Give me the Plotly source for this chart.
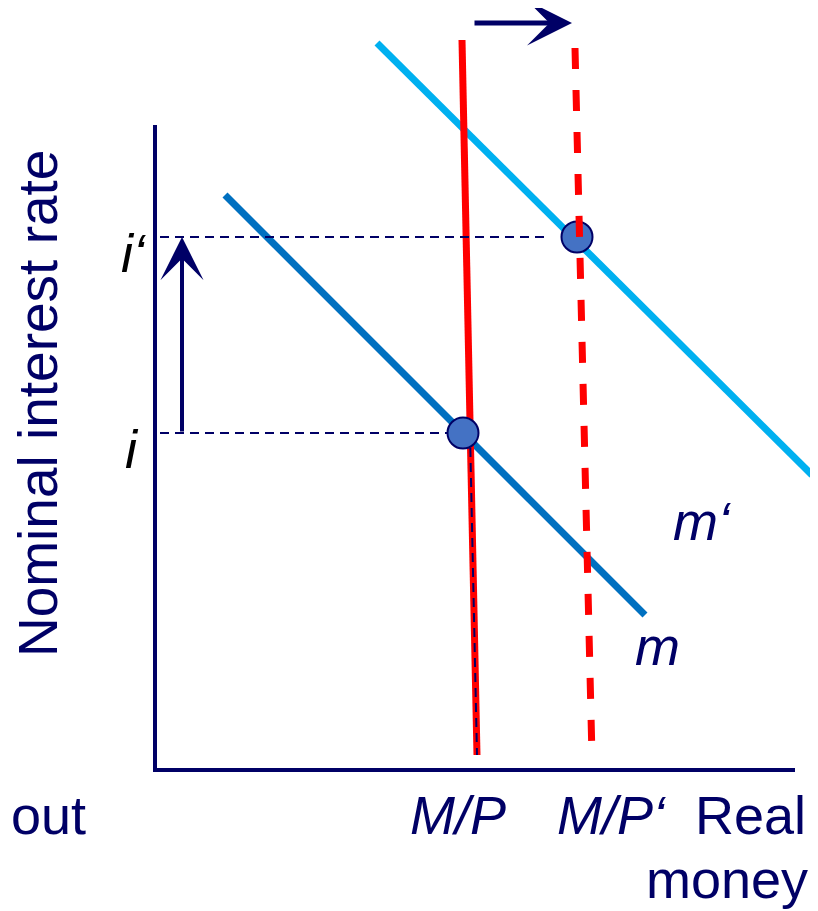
import plotly.graph_objects as go

# ---- data (diagram units: origin at the axes corner) ----
axis_x = [0, 0, 640]
axis_y = [645, 0, 0]

m_x = [70, 490]          # money demand m
m_y = [575, 155]
m2_x = [222, 657]        # money demand m'
m2_y = [727, 295]
ms_x = [307, 322]        # money supply M/P
ms_y = [730, 15]
ms2_x = [420, 437]       # money supply M/P'
ms2_y = [722, 13]

i_level = 337
i2_level = 533
eq_x = [308, 422]
eq_y = [i_level, i2_level]

guide_i_x = [5, 295]
guide_i2_x = [5, 390]
drop_x = [315, 322]
drop_y = [i_level, 15]

shift_arrow_x = [318, 417]
shift_arrow_y = [747, 747]
rise_arrow_x = [27, 27]
rise_arrow_y = [i_level, i2_level]

NAVY = "#000066"
FONT = "Liberation Sans"

fig = go.Figure()

def line(x, y, color, width, dash="solid"):
    fig.add_trace(go.Scatter(x=x, y=y, mode="lines",
                             line=dict(color=color, width=width, dash=dash),
                             hoverinfo="skip", showlegend=False))

line(axis_x, axis_y, NAVY, 4)
line(m_x, m_y, "#0070C0", 7)
line(m2_x, m2_y, "#00B0F0", 7)
line(ms_x, ms_y, "#FF0000", 7)
line(guide_i_x, [i_level, i_level], NAVY, 2, "9px,6px")
line(guide_i2_x, [i2_level, i2_level], NAVY, 2, "9px,6px")
line(drop_x, drop_y, NAVY, 2, "9px,6px")

fig.add_trace(go.Scatter(x=eq_x, y=eq_y, mode="markers",
                         marker=dict(size=31, color="#4472C4",
                                     line=dict(color=NAVY, width=2)),
                         hoverinfo="skip", showlegend=False))
line(ms2_x, ms2_y, "#FF0000", 7, "21px,21px")

# arrows
fig.add_annotation(x=shift_arrow_x[1], y=shift_arrow_y[1], ax=shift_arrow_x[0], ay=shift_arrow_y[0],
                   xref="x", yref="y", axref="x", ayref="y", text="", showarrow=True,
                   arrowhead=3, arrowsize=1.5, arrowwidth=5, arrowcolor=NAVY, standoff=0)
fig.add_annotation(x=rise_arrow_x[1], y=rise_arrow_y[1], ax=rise_arrow_x[0], ay=rise_arrow_y[0],
                   xref="x", yref="y", axref="x", ayref="y", text="", showarrow=True,
                   arrowhead=3, arrowsize=1.8, arrowwidth=4, arrowcolor=NAVY, standoff=0)

def label(text, x, y, color=NAVY, xanchor="center", size=54, angle=0):
    fig.add_annotation(x=x, y=y, xref="x", yref="y", text=text, showarrow=False,
                       xanchor=xanchor, yanchor="middle", textangle=angle,
                       font=dict(family=FONT, size=size, color=color))

label("Nominal interest rate", -117, 366, angle=-90, size=55)
label("<i>i‘</i>", -36, 517, color="black", xanchor="left")
label("<i>i</i>", -32, 321, color="black", xanchor="left")
label("<i>M/P</i>", 303, -45)
label("<i>M/P‘</i>", 456, -45)
label("Real", 653, -45, xanchor="right")
label("money", 655, -109, xanchor="right")
label("out", -146, -45, xanchor="left")
label("<i>m‘</i>", 547, 249)
label("<i>m</i>", 502, 124)

# the page body has an 8px margin, so the figure is 8px smaller than the window
fig.update_layout(
    width=810, height=903, autosize=False,
    margin=dict(l=0, r=0, t=0, b=0),
    paper_bgcolor="white", plot_bgcolor="white",
    xaxis=dict(range=[-147, 663], visible=False, fixedrange=True),
    yaxis=dict(range=[-141, 762], visible=False, fixedrange=True),
)

fig.write_html("out.html")
